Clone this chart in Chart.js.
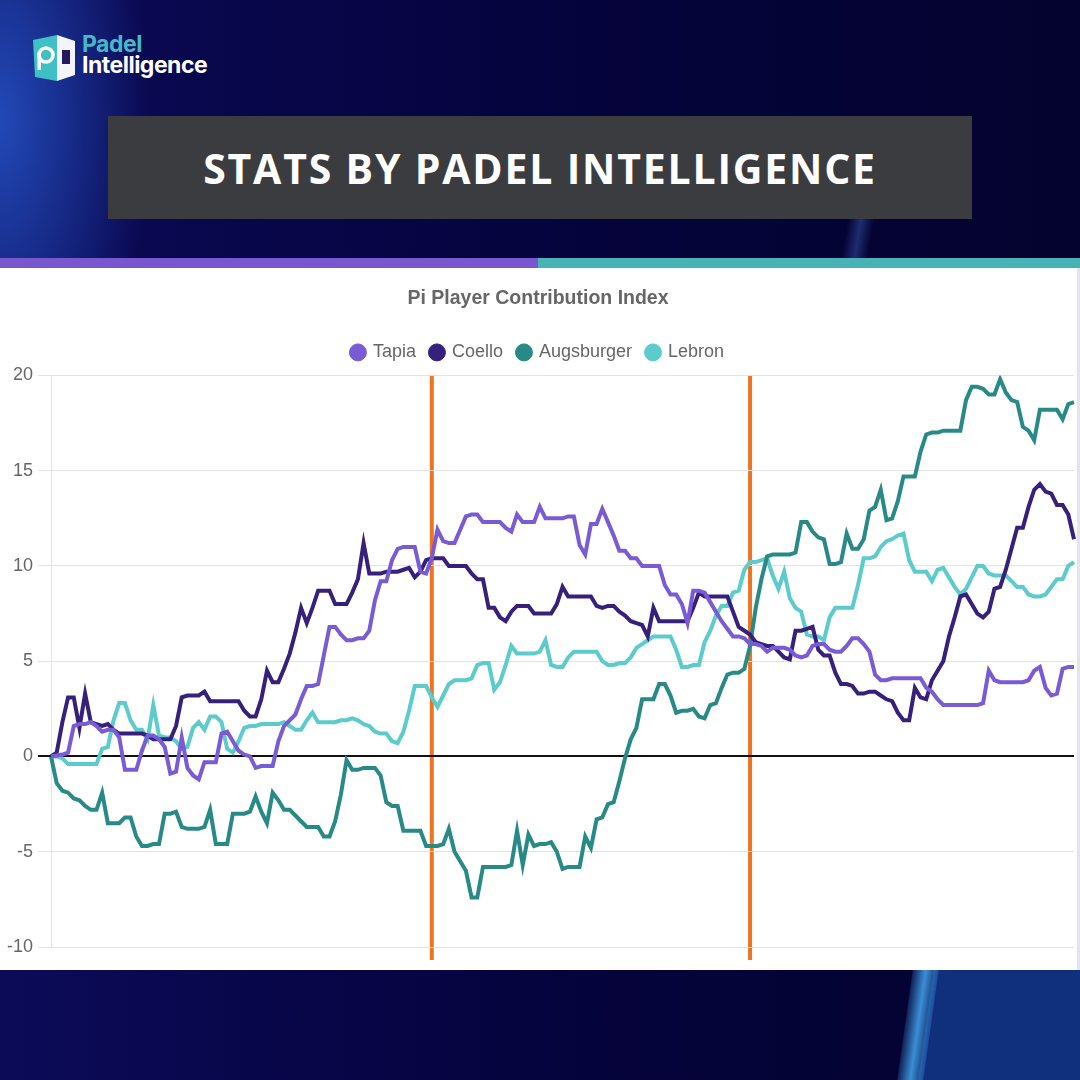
<!DOCTYPE html>
<html>
<head>
<meta charset="utf-8">
<script src="https://cdn.jsdelivr.net/npm/chart.js@4.4.1/dist/chart.umd.min.js"></script>
<style>
  html, body { margin: 0; padding: 0; }
  body {
    width: 1080px; height: 1080px; position: relative; overflow: hidden;
    background: #06043a;
    font-family: "Liberation Sans", Arial, sans-serif;
  }
  .bg {
    position: absolute; inset: 0;
    background:
      radial-gradient(ellipse 150px 330px at 0px 120px, rgba(38, 84, 200, 0.85), rgba(38, 84, 200, 0) 100%),
      linear-gradient(90deg, #0c0b58 0%, #08064a 25%, #05033b 55%, #04032f 100%);
  }
  .glow {
    position: absolute; left: 845px; top: 215px; width: 26px; height: 45px;
    background: linear-gradient(90deg, rgba(80,120,220,0), rgba(80,120,220,0.35), rgba(80,120,220,0));
    transform: skewX(-10deg);
  }
  .streak {
    position: absolute; left: 905px; top: 960px; width: 26px; height: 130px;
    background: linear-gradient(90deg, rgba(60,140,220,0.2), #3a8ed6, rgba(60,140,220,0.3));
    transform: skewX(-8deg);
  }
  .streak-fill {
    position: absolute; left: 926px; top: 960px; width: 170px; height: 130px;
    background: #10307e; transform: skewX(-8deg);
  }
  .logo { position: absolute; left: 31px; top: 33px; }
  .logo-text { position: absolute; left: 82px; top: 34px; font-family: Inter, "Open Sans", sans-serif; font-weight: 700; font-size: 23px; line-height: 21px; letter-spacing: -0.5px; }
  .logo-text .a { color: #46b9c9; }
  .logo-text .b { color: #ffffff; }
  .banner {
    position: absolute; left: 108px; top: 116px; width: 864px; height: 103px;
    background: #3b3c3f; color: #fff;
    display: flex; align-items: center; justify-content: center;
    font-family: "Open Sans", sans-serif; font-weight: 700; font-size: 41px; letter-spacing: 1.8px;
  }
  .bar-a { position: absolute; left: 0; top: 258px; width: 538px; height: 10px; background: #7857cf; }
  .bar-b { position: absolute; left: 538px; top: 258px; width: 542px; height: 10px; background: #47b3b6; }
  .panel { position: absolute; left: 0; top: 268px; width: 1077px; height: 702px; background: #fff; }
  .edge { position: absolute; left: 1077px; top: 268px; width: 3px; height: 702px; background: #e4e4ee; }
  canvas { position: absolute; left: 0; top: 268px; }
</style>
</head>
<body>
<div class="bg"></div>
<div class="glow"></div>
<div class="streak-fill"></div>
<div class="streak"></div>

<svg class="logo" width="46" height="50" viewBox="0 0 46 50">
  <polygon points="2,7 26,2 26,48 4,44" fill="#3fc0c4"/>
  <polygon points="26,2 44,8 44,42 26,48" fill="#f2f4f8"/>
  <rect x="31" y="17" width="8" height="14" fill="#231a5e"/>
  <circle cx="15" cy="22" r="7" fill="none" stroke="#fff" stroke-width="3.5"/>
  <rect x="6.5" y="20" width="3.5" height="17" fill="#fff"/>
</svg>
<div class="logo-text"><div class="a">Padel</div><div class="b">Intelligence</div></div>

<div class="banner">STATS BY PADEL INTELLIGENCE</div>
<div class="bar-a"></div>
<div class="bar-b"></div>
<div class="panel"></div>
<div class="edge"></div>
<canvas id="myChart" width="1077" height="702"></canvas>

<script>
// Contribution index per point
const tapia = [
  0, 0.05, 0.1, 0.2, 1.6, 1.7, 1.7, 1.8, 1.6, 1.3,
  1.4, 1.4, 1.0, -0.7, -0.7, -0.7, 0.3, 1.1, 1.1, 0.9,
  0.5, -0.9, -0.8, 1.0, -0.6, -1.0, -1.2, -0.3, -0.3, -0.3,
  1.2, 1.3, 0.8, 0.3, 0.1, 0.0, -0.6, -0.5, -0.5, -0.5,
  0.8, 1.6, 1.9, 2.2, 3.0, 3.7, 3.7, 3.8, 5.3, 6.8,
  6.8, 6.4, 6.1, 6.1, 6.2, 6.2, 6.6, 8.2, 9.2, 9.2,
  10.3, 10.9, 11.0, 11.0, 11.0, 9.7, 9.6, 10.4, 11.9, 11.3,
  11.2, 11.2, 11.9, 12.6, 12.7, 12.7, 12.3, 12.3, 12.3, 12.3,
  12.0, 11.8, 12.7, 12.3, 12.3, 12.3, 13.1, 12.5, 12.5, 12.5,
  12.5, 12.6, 12.6, 11.1, 10.6, 12.2, 12.2, 13.0, 12.3, 11.6,
  10.8, 10.8, 10.4, 10.4, 10.0, 10.0, 10.0, 10.0, 9.0, 8.5,
  8.5, 8.0, 7.0, 8.7, 8.7, 8.6, 8.1, 7.6, 7.1, 6.7,
  6.3, 6.3, 6.2, 5.9, 5.9, 5.8, 5.5, 5.7, 5.7, 5.7,
  5.6, 5.3, 5.2, 5.3, 5.8, 5.9, 5.9, 5.6, 5.5, 5.5,
  5.8, 6.2, 6.2, 5.9, 5.5, 4.3, 4.0, 4.0, 4.1, 4.1,
  4.1, 4.1, 4.1, 4.1, 3.6, 3.4, 3.0, 2.7, 2.7, 2.7,
  2.7, 2.7, 2.7, 2.7, 2.8, 4.5, 4.0, 3.9, 3.9, 3.9,
  3.9, 3.9, 4.0, 4.5, 4.7, 3.6, 3.2, 3.3, 4.6, 4.7,
  4.7
];
const coello = [
  0, 0.2, 1.8, 3.1, 3.1, 1.5, 3.3, 1.8, 1.7, 1.6,
  1.7, 1.4, 1.2, 1.2, 1.2, 1.2, 1.2, 1.1, 0.9, 0.9,
  0.9, 0.9, 1.6, 3.1, 3.2, 3.2, 3.2, 3.4, 2.9, 2.9,
  2.9, 2.9, 2.9, 2.9, 2.4, 2.1, 2.1, 3.0, 4.5, 3.9,
  3.9, 4.6, 5.4, 6.5, 7.8, 7.0, 7.8, 8.7, 8.7, 8.7,
  8.0, 8.0, 8.0, 8.6, 9.3, 11.2, 9.6, 9.6, 9.6, 9.7,
  9.7, 9.7, 9.8, 9.9, 9.4, 9.7, 10.3, 10.4, 10.4, 10.4,
  10.0, 10.0, 10.0, 10.0, 9.6, 9.3, 9.3, 7.8, 7.8, 7.3,
  7.1, 7.6, 7.9, 7.9, 7.9, 7.5, 7.5, 7.5, 7.5, 8.0,
  8.9, 8.4, 8.4, 8.4, 8.4, 8.4, 7.9, 7.8, 7.9, 7.9,
  7.6, 7.4, 7.1, 7.0, 6.9, 6.3, 7.8, 7.1, 7.1, 7.1,
  7.1, 7.1, 7.1, 7.8, 8.6, 8.4, 8.4, 8.4, 8.4, 8.4,
  7.6, 6.8, 6.6, 6.4, 6.0, 5.9, 5.8, 5.8, 5.5, 5.2,
  5.1, 6.6, 6.6, 6.7, 6.8, 5.6, 5.3, 5.3, 4.4, 3.8,
  3.8, 3.7, 3.3, 3.3, 3.4, 3.4, 3.2, 3.0, 2.9, 2.3,
  1.9, 1.9, 3.6, 3.1, 3.0, 4.0, 4.5, 5.0, 6.3, 7.3,
  8.4, 8.5, 8.0, 7.5, 7.3, 7.6, 8.8, 8.9, 9.8, 10.9,
  12.0, 12.0, 13.1, 14.0, 14.3, 13.9, 13.8, 13.2, 13.2, 12.7,
  11.4
];
const augsburger = [
  0, -1.4, -1.8, -1.9, -2.2, -2.3, -2.6, -2.8, -2.8, -1.9,
  -3.5, -3.5, -3.5, -3.2, -3.2, -4.2, -4.7, -4.7, -4.6, -4.6,
  -3.0, -3.0, -2.9, -3.7, -3.8, -3.8, -3.8, -3.7, -2.8, -4.6,
  -4.6, -4.6, -3.0, -3.0, -3.0, -2.9, -2.1, -2.9, -3.5, -1.9,
  -2.3, -2.8, -2.8, -3.1, -3.4, -3.7, -3.7, -3.7, -4.2, -4.2,
  -3.4, -2.0, -0.2, -0.7, -0.7, -0.6, -0.6, -0.6, -1.0, -2.4,
  -2.6, -2.6, -3.9, -3.9, -3.9, -3.9, -4.7, -4.7, -4.7, -4.6,
  -3.8, -5.0, -5.5, -6.0, -7.4, -7.4, -5.8, -5.8, -5.8, -5.8,
  -5.8, -5.7, -3.9, -5.7, -4.1, -4.7, -4.6, -4.6, -4.5, -5.0,
  -5.9, -5.8, -5.8, -5.8, -4.2, -4.8, -3.3, -3.2, -2.5, -2.4,
  -1.3, -0.1, 0.9, 1.5, 3.0, 3.0, 3.0, 3.8, 3.8, 3.2,
  2.3, 2.4, 2.4, 2.5, 2.1, 2.0, 2.7, 2.8, 3.6, 4.3,
  4.4, 4.4, 4.6, 5.8, 7.8, 9.3, 10.5, 10.6, 10.6, 10.6,
  10.6, 10.7, 12.3, 12.3, 11.8, 11.5, 11.4, 10.1, 10.1, 10.2,
  11.7, 10.9, 10.9, 11.4, 12.9, 13.1, 14.0, 12.4, 12.5, 13.4,
  14.7, 14.7, 14.7, 16.0, 16.9, 17.0, 17.0, 17.1, 17.1, 17.1,
  17.1, 18.7, 19.4, 19.4, 19.3, 19.0, 19.0, 19.8, 19.1, 18.7,
  18.6, 17.3, 17.1, 16.6, 18.2, 18.2, 18.2, 18.2, 17.7, 18.5,
  18.6
];
const lebron = [
  0, 0, -0.1, -0.4, -0.4, -0.4, -0.4, -0.4, -0.4, 0.4,
  0.5, 1.9, 2.8, 2.8, 1.9, 1.4, 1.4, 0.9, 2.7, 1.1,
  1.0, 1.0, 0.8, 0.4, 0.5, 1.5, 1.8, 1.4, 2.1, 2.1,
  1.8, 0.4, 0.2, 0.8, 1.5, 1.6, 1.6, 1.7, 1.7, 1.7,
  1.7, 1.8, 1.6, 1.4, 1.4, 1.9, 2.3, 1.8, 1.8, 1.8,
  1.8, 1.9, 1.9, 2.0, 1.9, 1.7, 1.6, 1.3, 1.2, 1.2,
  0.8, 0.7, 1.3, 2.4, 3.7, 3.7, 3.7, 3.1, 2.6, 3.2,
  3.8, 4.0, 4.0, 4.0, 4.1, 4.8, 4.9, 4.9, 3.5, 3.9,
  4.8, 5.8, 5.4, 5.4, 5.4, 5.4, 5.5, 6.1, 4.8, 4.7,
  4.7, 5.2, 5.5, 5.5, 5.5, 5.5, 5.5, 5.0, 4.8, 4.8,
  4.9, 4.9, 5.2, 5.7, 5.9, 6.1, 6.3, 6.3, 6.3, 6.3,
  5.6, 4.7, 4.7, 4.8, 4.8, 6.0, 6.6, 7.4, 7.9, 7.9,
  8.6, 8.7, 9.8, 10.2, 10.2, 10.3, 10.4, 9.5, 8.8, 9.7,
  8.3, 7.8, 7.6, 6.4, 6.3, 6.3, 6.1, 7.3, 7.8, 7.8,
  7.8, 7.8, 9.0, 10.4, 10.4, 10.5, 11.0, 11.3, 11.4, 11.6,
  11.7, 10.3, 9.7, 9.7, 9.7, 9.2, 9.8, 9.9, 9.4, 8.9,
  8.5, 8.8, 9.4, 10.0, 10.0, 9.6, 9.5, 9.5, 9.5, 9.2,
  8.9, 8.9, 8.5, 8.4, 8.4, 8.5, 8.9, 9.3, 9.3, 10.0,
  10.2
];
const pointLabels = tapia.map((_, i) => i);
const markerPoints = [67, 123];

const markerLines = {
  id: 'markerLines',
  beforeDraw(chart) {
    const { ctx, chartArea, scales } = chart;
    ctx.save();
    ctx.strokeStyle = '#ee7422';
    ctx.lineWidth = 4;
    markerPoints.forEach(m => {
      const x = scales.x.getPixelForValue(m);
      ctx.beginPath();
      ctx.moveTo(x, chartArea.top);
      ctx.lineTo(x, chartArea.bottom + 13);
      ctx.stroke();
    });
    ctx.restore();
  }
};

// a bit more room under the legend
const legendGap = {
  id: 'legendGap',
  beforeInit(chart) {
    const fit = chart.legend.fit;
    chart.legend.fit = function () {
      fit.call(this);
      this.height += 4;
    };
  }
};

const font = 'Liberation Sans, Arial, sans-serif';
const ctx = document.getElementById('myChart').getContext('2d');
new Chart(ctx, {
  type: 'line',
  data: {
    labels: pointLabels,
    datasets: [
      { label: 'Tapia', data: tapia, borderColor: '#7a5bd6', backgroundColor: '#7a5bd6' },
      { label: 'Coello', data: coello, borderColor: '#36207c', backgroundColor: '#36207c' },
      { label: 'Augsburger', data: augsburger, borderColor: '#288a86', backgroundColor: '#288a86' },
      { label: 'Lebron', data: lebron, borderColor: '#5ccbcb', backgroundColor: '#5ccbcb' },
    ],
  },
  options: {
    responsive: false,
    animation: false,
    elements: {
      line: { borderWidth: 4, tension: 0, borderJoinStyle: 'miter' },
      point: { radius: 0 },
    },
    layout: { padding: { top: 9, left: 2, right: 3, bottom: 23 } },
    plugins: {
      title: {
        display: true,
        text: 'Pi Player Contribution Index',
        color: '#666',
        font: { family: font, size: 19.5, weight: 'bold' },
        padding: { top: 10, bottom: 18 },
      },
      legend: {
        labels: {
          usePointStyle: true,
          pointStyle: 'circle',
          boxWidth: 12,
          boxHeight: 12,
          padding: 15,
          color: '#666',
          font: { family: font, size: 18 },
        },
      },
      tooltip: { enabled: false },
    },
    scales: {
      x: { display: false },
      y: {
        min: -10,
        max: 20,
        ticks: { stepSize: 5, color: '#666', padding: 5, font: { family: font, size: 18 } },
        grid: {
          tickLength: 13,
          color: c => (c.tick && c.tick.value === 0 ? '#111' : '#e3e3e3'),
          lineWidth: c => (c.tick && c.tick.value === 0 ? 2 : 1),
        },
        border: { color: '#e3e3e3' },
      },
    },
  },
  plugins: [markerLines, legendGap],
});
</script>
</body>
</html>
